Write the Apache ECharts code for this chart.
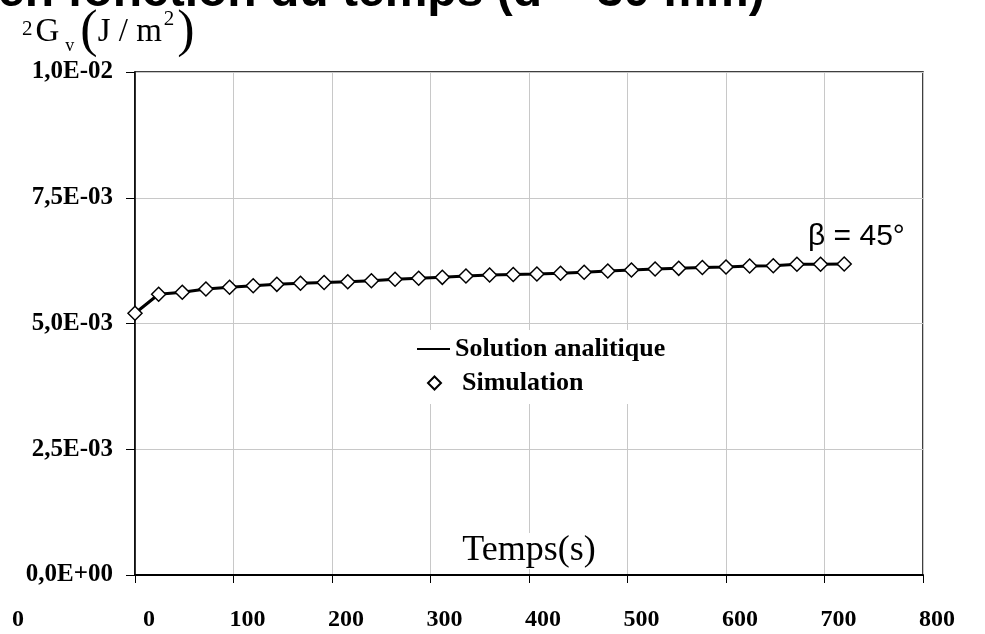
<!DOCTYPE html>
<html>
<head>
<meta charset="utf-8">
<script src="https://cdn.jsdelivr.net/npm/echarts@6/dist/echarts.min.js"></script>
<style>
  html, body { margin: 0; padding: 0; background: #fff; }
  #main { width: 985px; height: 634px; }
</style>
</head>
<body>
<div id="main"></div>
<script>
// time (s), one simulation point every 24 s
var temps = [0, 24, 48, 72, 96, 120, 144, 168, 192, 216, 240, 264, 288, 312, 336,
  360, 384, 408, 432, 456, 480, 504, 528, 552, 576, 600, 624, 648, 672, 696, 720];
// energy (J/m2)
var analytique = [0.005203, 0.005581, 0.005620, 0.005686, 0.005720, 0.005751, 0.005779,
  0.005799, 0.005815, 0.005831, 0.005851, 0.005879, 0.005899, 0.005918, 0.005944,
  0.005964, 0.005974, 0.005984, 0.005998, 0.006018, 0.006044, 0.006064, 0.006083,
  0.006097, 0.006113, 0.006123, 0.006143, 0.006149, 0.006177, 0.006177, 0.006183];
var simulation = analytique.slice();
var yTickLabels = ['0,0E+00', '2,5E-03', '5,0E-03', '7,5E-03', '1,0E-02'];
var xTickLabels = ['0', '100', '200', '300', '400', '500', '600', '700', '800'];

var serif = '"Liberation Serif", "DejaVu Serif", serif';
var sans = '"Liberation Sans", Arial, sans-serif';

var chart = echarts.init(document.getElementById('main'));

function pairs(xs, ys) {
  return xs.map(function (x, i) { return [x, ys[i]]; });
}

var option = {
  animation: false,
  backgroundColor: '#fff',
  grid: {
    left: 135, top: 72, right: 62, bottom: 59,
    outerBoundsMode: 'none',
    show: true, borderColor: '#000', borderWidth: 1.5, backgroundColor: 'transparent'
  },
  xAxis: {
    type: 'value', min: 0, max: 800, interval: 100,
    name: 'Temps(s)',
    nameLocation: 'middle',
    nameGap: -42,
    nameMoveOverlap: false,
    nameTextStyle: {
      fontFamily: serif, fontSize: 36, color: '#000',
      backgroundColor: '#fff', padding: [0, 4, 0, 4]
    },
    axisLine: { lineStyle: { color: '#000', width: 2 } },
    axisTick: { show: true, length: 8, lineStyle: { color: '#000', width: 1 } },
    axisLabel: {
      margin: 33, color: '#000', fontFamily: serif, fontWeight: 'bold', fontSize: 24,
      padding: [0, 0, 0, 28],
      formatter: function (v) { return xTickLabels[Math.round(v / 100)]; }
    },
    splitLine: { show: true, lineStyle: { color: '#c8c8c8', width: 1 } }
  },
  yAxis: {
    type: 'value', min: 0, max: 0.01, interval: 0.0025,
    axisLine: { show: true, lineStyle: { color: '#000', width: 1.5 } },
    axisTick: { show: true, length: 9, lineStyle: { color: '#000', width: 1 } },
    axisLabel: {
      margin: 22, color: '#000', fontFamily: serif, fontWeight: 'bold', fontSize: 25,
      formatter: function (v) { return yTickLabels[Math.round(v / 0.0025)]; }
    },
    splitLine: { show: true, lineStyle: { color: '#c8c8c8', width: 1 } }
  },
  legend: [
    {
      data: [{ name: 'Solution analitique', icon: 'rect' }],
      orient: 'vertical', left: 405, top: 330,
      itemWidth: 33, itemHeight: 2,
      backgroundColor: '#fff', padding: [6, 14, 2, 12],
      textStyle: { fontFamily: serif, fontWeight: 'bold', fontSize: 26, color: '#000' }
    },
    {
      data: ['Simulation'],
      orient: 'vertical', left: 405, top: 364,
      itemWidth: 13, itemHeight: 13,
      backgroundColor: '#fff', padding: [6, 90, 8, 22],
      textStyle: { fontFamily: serif, fontWeight: 'bold', fontSize: 26, color: '#000',
        padding: [0, 0, 0, 16] }
    }
  ],
  series: [
    {
      name: 'Solution analitique',
      type: 'line',
      data: pairs(temps, analytique),
      symbol: 'none',
      lineStyle: { color: '#000', width: 3 },
      itemStyle: { color: '#000' },
      z: 2
    },
    {
      name: 'Simulation',
      type: 'scatter',
      data: pairs(temps, simulation),
      symbol: 'diamond',
      symbolSize: 14,
      itemStyle: { color: '#fff', borderColor: '#000', borderWidth: 1.5, opacity: 1 },
      z: 3
    }
  ],
  graphic: [
    {
      type: 'text', left: -2, top: -31,
      style: {
        text: 'en fonction du temps (d = 30 mm)',
        font: 'bold 48px ' + sans, fill: '#000'
      }
    },
    {
      type: 'text', x: 22, y: 6,
      style: {
        text: '{sup|2}{g|G}{sub|v}{par|(}{g|J / m}{sup2|2}{par|)}',
        verticalAlign: 'top',
        rich: {
          g: { fontFamily: serif, fontSize: 33, color: '#000', lineHeight: 52 },
          sup: { fontFamily: serif, fontSize: 21, color: '#000', verticalAlign: 'top', padding: [13, 3, 0, 0] },
          sup2: { fontFamily: serif, fontSize: 21, color: '#000', verticalAlign: 'top', padding: [3, 3, 0, 2] },
          sub: { fontFamily: serif, fontSize: 18, color: '#000', verticalAlign: 'bottom', padding: [0, 6, 3, 6] },
          par: { fontFamily: serif, fontSize: 52, color: '#000', lineHeight: 52 }
        }
      }
    },
    {
      type: 'text', x: 808, y: 237,
      style: {
        text: 'β = 45°', font: '30px ' + sans, fill: '#000',
        verticalAlign: 'middle'
      }
    },
    {
      type: 'text', x: 18, y: 620,
      style: {
        text: '0', font: 'bold 24px ' + serif, fill: '#000',
        align: 'center', verticalAlign: 'middle'
      }
    }
  ]
};

chart.setOption(option);
</script>
</body>
</html>
